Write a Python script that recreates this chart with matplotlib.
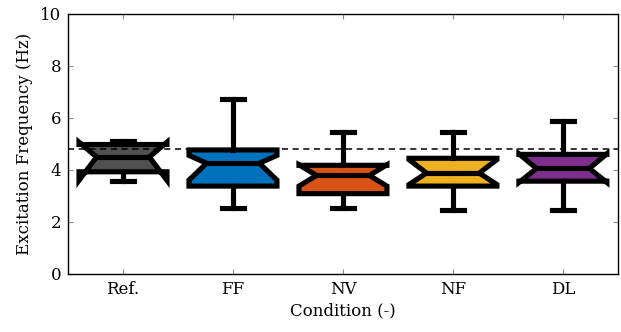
import matplotlib
matplotlib.use("Agg")
import matplotlib.pyplot as plt

# values (Hz)
conditions = ["Ref.", "FF", "NV", "NF", "DL"]
whislo = [3.57, 2.54, 2.54, 2.48, 2.48]
q1 = [3.93, 3.38, 3.09, 3.38, 3.57]
med = [4.50, 4.26, 3.79, 3.88, 4.06]
q3 = [4.98, 4.77, 4.18, 4.45, 4.60]
whishi = [5.12, 6.73, 5.47, 5.47, 5.87]
cilo = [3.60, 3.61, 3.38, 3.44, 3.52]
cihi = [5.07, 4.56, 4.20, 4.40, 4.62]
ref_level = 4.8

colors = ["#505050", "#0072BD", "#D95319", "#EDB120", "#7E2F8E"]

plt.rcParams.update({"font.family": "DejaVu Serif", "font.size": 12})

fig = plt.figure(figsize=(6.21, 3.32), dpi=100)
ax = fig.add_axes([0.1095, 0.1747, 0.8855, 0.7833])

stats = []
for i, name in enumerate(conditions):
    stats.append(dict(label=name, whislo=whislo[i], q1=q1[i], med=med[i], q3=q3[i],
                      whishi=whishi[i], cilo=cilo[i], cihi=cihi[i], fliers=[]))

pos = list(range(1, len(conditions) + 1))
W = 0.8
LW = 3.7
bp = ax.bxp(stats, positions=pos, widths=W, patch_artist=True, shownotches=True,
            showfliers=False, capwidths=0.2,
            boxprops=dict(linewidth=LW, edgecolor="black", joinstyle="miter"),
            whiskerprops=dict(linewidth=LW, color="black"),
            capprops=dict(linewidth=LW, color="black"),
            medianprops=dict(linewidth=LW, color="black"))

# shallower notches than matplotlib's default
depth = 0.6
for i, (box, mline) in enumerate(zip(bp["boxes"], bp["medians"])):
    box.set_facecolor(colors[i])
    v = box.get_path().vertices
    for k in range(len(v)):
        if v[k, 1] == med[i]:
            side = 1 if v[k, 0] > pos[i] else -1
            v[k, 0] = pos[i] + side * W / 2 * depth
    mline.set_xdata([pos[i] - W / 2 * depth, pos[i] + W / 2 * depth])

ax.axhline(ref_level, color="black", ls=(0, (4, 3)), lw=1.1, zorder=5)

ax.set_xlim(0.5, 5.5)
ax.set_ylim(0, 10)
ax.set_yticks([0, 2, 4, 6, 8, 10])
ax.set_xticks(pos)
ax.set_xticklabels(conditions)
ax.tick_params(direction="in", top=True, right=True, length=3.5, width=0.8,
               color="0.55", labelsize=12, pad=5)
for s in ax.spines.values():
    s.set_linewidth(1.0)
ax.set_xlabel("Condition (-)", fontsize=12, labelpad=3)
ax.set_ylabel("Excitation Frequency (Hz)", fontsize=12, labelpad=5)

fig.savefig("out.png", dpi=100)
